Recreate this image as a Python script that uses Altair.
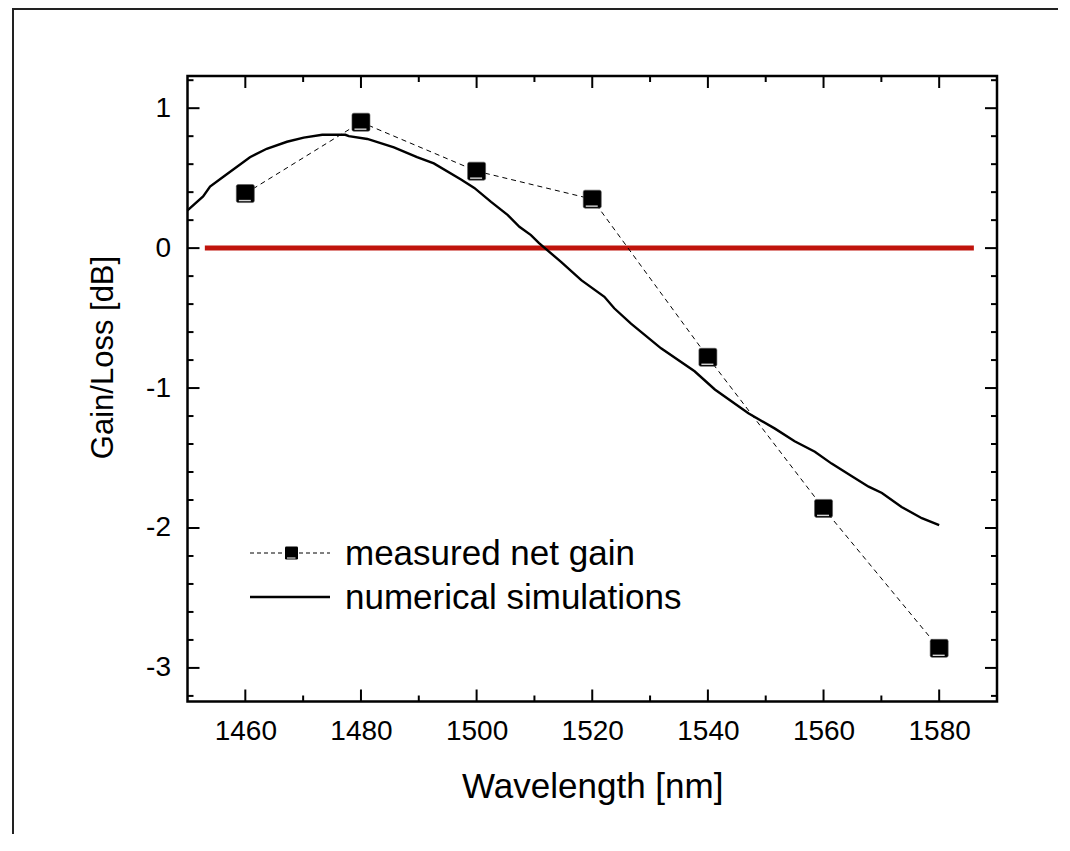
import altair as alt
import pandas as pd

# ---------------- data ----------------
meas_wl = [1460, 1480, 1500, 1520, 1540, 1560, 1580]
meas_gain = [0.39, 0.90, 0.55, 0.35, -0.78, -1.86, -2.86]

sim_wl = [1450.0, 1452.7, 1453.9, 1456.2, 1460.8, 1463.7, 1467.2, 1470.1, 1473.3,
          1477.3, 1477.9, 1481.1, 1485.7, 1489.7, 1492.6, 1497.3, 1499.6, 1502.5,
          1505.4, 1507.4, 1509.4, 1510.8, 1514.6, 1518.1, 1522.1, 1523.8, 1526.7,
          1531.9, 1537.7, 1541.2, 1547.0, 1551.6, 1555.0, 1558.5, 1561.4, 1564.9,
          1567.8, 1570.1, 1573.5, 1577.0, 1580.0]
sim_gain = [0.27, 0.37, 0.44, 0.51, 0.65, 0.71, 0.76, 0.79, 0.81,
            0.81, 0.80, 0.78, 0.72, 0.65, 0.605, 0.49, 0.43, 0.33,
            0.236, 0.152, 0.093, 0.035, -0.098, -0.229, -0.348, -0.43, -0.54,
            -0.716, -0.88, -1.01, -1.18, -1.29, -1.38, -1.455, -1.54, -1.63,
            -1.705, -1.75, -1.85, -1.93, -1.98]

zero_wl = [1453, 1586]
zero_val = [0, 0]

x_major = [1460, 1480, 1500, 1520, 1540, 1560, 1580]
x_minor = [1470, 1490, 1510, 1530, 1550, 1570]
y_major = [-3, -2, -1, 0, 1]
y_minor = [-3.2, -2.8, -2.6, -2.4, -2.2, -1.8, -1.6, -1.4, -1.2, -0.8, -0.6,
           -0.4, -0.2, 0.2, 0.4, 0.6, 0.8, 1.2]

legend_labels = ["measured net gain", "numerical simulations"]
x_title = "Wavelength [nm]"
y_title = "Gain/Loss [dB]"

# ---------------- layout ----------------
W, H = 809.5, 625.5
PAD = {"left": 179.5, "top": 68, "right": 61, "bottom": 132.5}
FONT = "Liberation Sans"

xs = alt.Scale(domain=[1450, 1590], nice=False, zero=False)
ys = alt.Scale(domain=[-3.24, 1.23], nice=False, zero=False)

meas = pd.DataFrame({"wl": meas_wl, "g": meas_gain})
sim = pd.DataFrame({"wl": sim_wl, "g": sim_gain})
zero = pd.DataFrame({"wl": zero_wl, "g": zero_val})
one = pd.DataFrame({"k": [0]})

x_axis = alt.Axis(values=x_major, labelExpr="'' + datum.value", domain=False,
                  ticks=False, tickSize=0, grid=False, labelFont=FONT,
                  labelFontSize=28, labelColor="black", labelPadding=15.5,
                  title=x_title, titleFont=FONT, titleFontSize=35,
                  titleFontWeight="normal", titleColor="black",
                  titleX=W / 2, titleY=95.5, titleAlign="center",
                  titleBaseline="alphabetic")
y_axis = alt.Axis(values=y_major, labelExpr="'' + datum.value", domain=False,
                  ticks=False, tickSize=0, grid=False, labelFont=FONT,
                  labelFontSize=28, labelColor="black", labelPadding=17,
                  title=y_title, titleFont=FONT, titleFontSize=31,
                  titleFontWeight="normal", titleColor="black",
                  titleX=-75.5, titleY=281, titleAngle=270, titleAlign="center",
                  titleBaseline="alphabetic")

X = alt.X("wl:Q", scale=xs, axis=x_axis)
Y = alt.Y("g:Q", scale=ys, axis=y_axis)

ROUND_SQ = ("M-0.8,-1L0.8,-1Q1,-1,1,-0.8L1,0.8Q1,1,0.8,1L-0.8,1"
            "Q-1,1,-1,0.8L-1,-0.8Q-1,-1,-0.8,-1Z")

zero_line = alt.Chart(zero).mark_line(color="#C0140C", strokeWidth=5,
                                      strokeCap="butt").encode(x=X, y=Y)

sim_line = alt.Chart(sim).mark_line(color="black", strokeWidth=2.4).encode(x=X, y=Y)

meas_line = alt.Chart(meas).mark_line(color="black", strokeWidth=1,
                                      strokeDash=[5, 4]).encode(x=X, y=Y)

meas_pts = alt.Chart(meas).mark_point(shape=ROUND_SQ, filled=True, size=324,
                                      color="black", opacity=1,
                                      stroke="#555", strokeWidth=0.6).encode(x=X, y=Y)

meas_hl = alt.Chart(meas).mark_rule(color="#d8d8d8", strokeWidth=1.4,
                                    xOffset=-6.5, x2Offset=5.5, yOffset=7).encode(
    x=X, x2=alt.X2("wl"), y=Y)

# inward ticks
def xticks(vals, length, top):
    d = pd.DataFrame({"wl": vals})
    if top:
        yy, yy2 = 0, length
    else:
        yy, yy2 = H, H - length
    return alt.Chart(d).mark_rule(color="black", strokeWidth=2).encode(
        x=X, y=alt.value(yy), y2=alt.value(yy2))

def yticks(vals, length, right):
    d = pd.DataFrame({"g": vals})
    if right:
        xx, xx2 = W, W - length
    else:
        xx, xx2 = 0, length
    return alt.Chart(d).mark_rule(color="black", strokeWidth=2).encode(
        y=Y, x=alt.value(xx), x2=alt.value(xx2))

tick_layers = [
    xticks(x_major, 12, False), xticks(x_minor, 6, False),
    xticks(x_major, 12, True), xticks(x_minor, 6, True),
    yticks(y_major, 12, False), yticks(y_minor, 6, False),
    yticks(y_major, 12, True), yticks(y_minor, 6, True),
]

# legend
LX0, LX1, LSYM, LTX = 62.5, 142.5, 104, 157.5
R1, R2 = 477, 521
leg_dash = alt.Chart(one).mark_rule(color="black", strokeWidth=1,
                                    strokeDash=[4, 3]).encode(
    x=alt.value(LX0), x2=alt.value(LX1), y=alt.value(R1))
leg_sq = alt.Chart(one).mark_point(shape=ROUND_SQ, filled=True, size=169,
                                   color="black", opacity=1).encode(
    x=alt.value(LSYM), y=alt.value(R1))
leg_hl = alt.Chart(one).mark_rule(color="#d8d8d8", strokeWidth=1.2).encode(
    x=alt.value(LSYM - 4.5), x2=alt.value(LSYM + 4), y=alt.value(R1 + 5))
leg_solid = alt.Chart(one).mark_rule(color="black", strokeWidth=2.4).encode(
    x=alt.value(LX0), x2=alt.value(LX1), y=alt.value(R2))
leg_t1 = alt.Chart(one).mark_text(align="left", baseline="alphabetic",
                                  font=FONT, fontSize=35, color="black").encode(
    x=alt.value(LTX), y=alt.value(R1 + 12), text=alt.value(legend_labels[0]))
leg_t2 = alt.Chart(one).mark_text(align="left", baseline="alphabetic",
                                  font=FONT, fontSize=35, color="black").encode(
    x=alt.value(LTX), y=alt.value(R2 + 12), text=alt.value(legend_labels[1]))

# outer frame (figure border)
frame_left = alt.Chart(one).mark_rule(color="#222", strokeWidth=2).encode(
    x=alt.value(-174.5), y=alt.value(-68), y2=alt.value(H + PAD["bottom"]))
frame_top = alt.Chart(one).mark_rule(color="#222", strokeWidth=2).encode(
    y=alt.value(-67), x=alt.value(-175.5), x2=alt.value(W + PAD["right"]))

chart = alt.layer(
    zero_line, sim_line, meas_line, meas_pts, meas_hl,
    *tick_layers,
    leg_dash, leg_sq, leg_hl, leg_solid, leg_t1, leg_t2,
    frame_left, frame_top,
).properties(
    width=W, height=H,
    autosize=alt.AutoSizeParams(type="none"),
    padding=PAD,
    background="white",
).configure_view(
    stroke="black", strokeWidth=2.5,
)

chart.save("out.html", embed_options={"renderer": "svg", "actions": False})
